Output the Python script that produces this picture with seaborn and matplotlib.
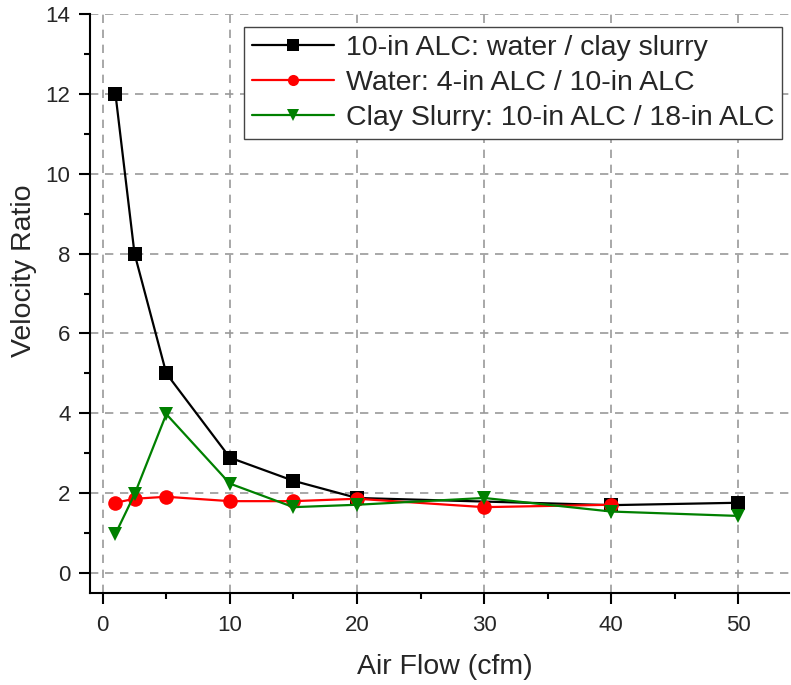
import matplotlib
matplotlib.use("Agg")
import matplotlib.pyplot as plt
import seaborn as sns
import pandas as pd
from matplotlib.ticker import AutoMinorLocator

sns.set_style("ticks")
plt.rcParams['font.family'] = ['Liberation Sans', 'DejaVu Sans']

labels = ["10-in ALC: water / clay slurry",
          "Water: 4-in ALC / 10-in ALC",
          "Clay Slurry: 10-in ALC / 18-in ALC"]
x_black = [1, 2.5, 5, 10, 15, 20, 40, 50]
y_black = [12.0, 8.0, 5.0, 2.89, 2.31, 1.88, 1.70, 1.76]
x_red = [1, 2.5, 5, 10, 15, 20, 30, 40]
y_red = [1.76, 1.86, 1.91, 1.80, 1.80, 1.86, 1.65, 1.71]
x_green = [1, 2.5, 5, 10, 15, 20, 30, 40, 50]
y_green = [0.98, 1.97, 3.98, 2.24, 1.65, 1.71, 1.88, 1.54, 1.43]

frames = []
for lab, xs, ys in zip(labels, [x_black, x_red, x_green], [y_black, y_red, y_green]):
    frames.append(pd.DataFrame({"x": xs, "y": ys, "series": lab}))
df = pd.concat(frames, ignore_index=True)

fig = plt.figure(figsize=(7.91, 6.85), dpi=100)
ax = fig.add_axes([0.1138, 0.1343, 0.884, 0.8453])

palette = {labels[0]: "black", labels[1]: "red", labels[2]: "green"}
markers = {labels[0]: "s", labels[1]: "o", labels[2]: "v"}
sns.lineplot(data=df, x="x", y="y", hue="series", style="series",
             palette=palette, markers=markers, dashes=False, ax=ax,
             linewidth=1.6, markersize=10.5, markeredgewidth=0, sort=False,
             estimator=None)

ax.set_xlim(-1, 54)
ax.set_ylim(-0.5, 14)
ax.set_xticks([0, 10, 20, 30, 40, 50])
ax.set_yticks(range(0, 15, 2))
ax.xaxis.set_minor_locator(AutoMinorLocator(2))
ax.yaxis.set_minor_locator(AutoMinorLocator(2))
ax.tick_params(which='major', direction='out', length=8, width=1.5, labelsize=16,
               color='black', pad=6)
ax.tick_params(axis='x', which='major', pad=8)
ax.tick_params(which='minor', direction='out', length=4.5, width=1.5, color='black')
for s in ['top', 'right']:
    ax.spines[s].set_visible(False)
for s in ['left', 'bottom']:
    ax.spines[s].set_linewidth(1.5)
    ax.spines[s].set_color('black')
ax.grid(True, which='major', linestyle=(0, (5, 4)), color='#999999', linewidth=1.2)
ax.set_xlabel("Air Flow (cfm)", fontsize=20.5)
ax.set_ylabel("Velocity Ratio", fontsize=20.5)
ax.xaxis.set_label_coords(0.507, -0.105)
ax.yaxis.set_label_coords(-0.076, 0.557)

leg = ax.legend(loc='upper right', fontsize=20.5, frameon=True, fancybox=False,
                edgecolor='#444444', framealpha=1, handlelength=2.9,
                borderaxespad=0.0, labelspacing=0.32, handletextpad=0.4,
                borderpad=0.28, bbox_to_anchor=(0.99, 0.978))
leg.get_frame().set_linewidth(1.0)
for h in leg.legend_handles:
    h.set_markersize(8)

fig.savefig("out.png", dpi=100)
